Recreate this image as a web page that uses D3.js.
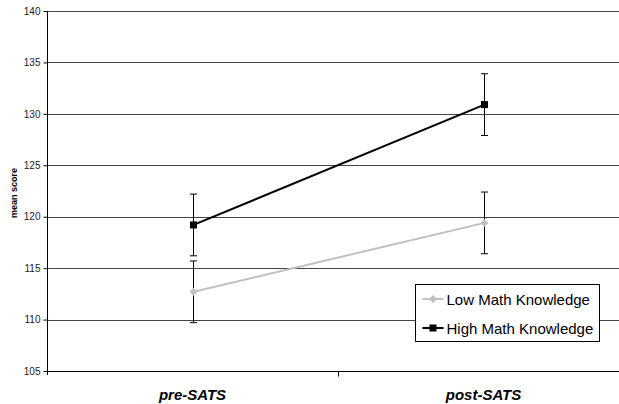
<!DOCTYPE html>
<html lang="en">
<head>
  <meta charset="UTF-8">
  <title>Mean score</title>
  <script src="https://d3js.org/d3.v7.min.js"></script>
  <style>
    body { margin: 0; background: #fff; }
    svg { display: block; font-family: "Liberation Sans", Arial, sans-serif; }
    .grid line { stroke: #444; stroke-width: 1px; shape-rendering: crispEdges; }
  </style>
</head>
<body>
  <div id="chart"></div>

  <script>
    const categories = ["pre-SATS", "post-SATS"];
    const seriesNames = ["Low Math Knowledge", "High Math Knowledge"];
    const lowValues = [112.7, 119.4];
    const highValues = [119.2, 130.9];
    const lowErrors = [3.0, 3.0];
    const highErrors = [3.0, 3.0];
    const yTicks = [105, 110, 115, 120, 125, 130, 135, 140];

    const width = 619, height = 404;
    const plotLeft = 47, plotRight = 629, plotTop = 11, plotBottom = 371;
    const font = "'Liberation Sans', Arial, sans-serif";

    const svg = d3.select("#chart").append("svg")
      .attr("width", width).attr("height", height);

    const x = d3.scaleBand().domain(categories).range([plotLeft, plotRight]);
    const y = d3.scaleLinear().domain([105, 140]).range([plotBottom, plotTop]);

    // gridlines
    svg.append("g").attr("class", "grid")
      .selectAll("line").data(yTicks.filter(t => t > 105)).enter().append("line")
      .attr("x1", plotLeft).attr("x2", plotRight)
      .attr("y1", d => Math.round(y(d)) + 0.5).attr("y2", d => Math.round(y(d)) + 0.5);

    // y axis
    const yAxis = svg.append("g")
      .attr("transform", `translate(${plotLeft + 0.5},0)`)
      .call(d3.axisLeft(y).tickValues(yTicks).tickSize(4).tickPadding(3))
      .attr("font-family", font);
    yAxis.select(".domain").attr("stroke", "#000").attr("d", `M0,${plotTop}V${plotBottom + 4}`);
    yAxis.selectAll(".tick line").attr("stroke", "#000");
    yAxis.selectAll(".tick text").style("font-size", "10px").attr("fill", "#222");

    // x axis
    const xAxis = svg.append("g")
      .attr("transform", `translate(0,${Math.round(plotBottom) + 0.5})`)
      .call(d3.axisBottom(x).tickSize(0).tickPadding(18))
      .attr("font-family", font);
    xAxis.select(".domain").attr("stroke", "#000").attr("d", `M${plotLeft},0H${plotRight}`);
    xAxis.selectAll(".tick text")
      .style("font-size", "15px").style("font-weight", "bold").style("font-style", "italic")
      .attr("fill", "#000");
    // separator tick between categories
    xAxis.append("line")
      .attr("x1", x("post-SATS") + 0.5).attr("x2", x("post-SATS") + 0.5)
      .attr("y1", 0).attr("y2", 5).attr("stroke", "#000");

    // y title
    svg.append("text")
      .attr("transform", `translate(17,193) rotate(-90)`)
      .attr("text-anchor", "middle")
      .style("font-family", font)
      .style("font-size", "9px").style("font-weight", "bold")
      .text("mean score");

    const cx = c => x(c) + x.bandwidth() / 2;

    const series = [
      { name: seriesNames[0], values: lowValues, errors: lowErrors, color: "#c0c0c0", marker: "diamond" },
      { name: seriesNames[1], values: highValues, errors: highErrors, color: "#000", marker: "square" }
    ];

    // error bars
    series.forEach(s => {
      const g = svg.append("g").attr("stroke", "#000").attr("stroke-width", 1);
      categories.forEach((c, i) => {
        const px = Math.round(cx(c)) + 0.5;
        const y1 = y(s.values[i] + s.errors[i]), y2 = y(s.values[i] - s.errors[i]);
        g.append("line").attr("x1", px).attr("x2", px).attr("y1", y1).attr("y2", y2);
        g.append("line").attr("x1", px - 3.5).attr("x2", px + 3.5).attr("y1", y1).attr("y2", y1);
        g.append("line").attr("x1", px - 3.5).attr("x2", px + 3.5).attr("y1", y2).attr("y2", y2);
      });
    });

    const line = d3.line().x((d, i) => Math.round(cx(categories[i])) + 0.5).y(d => y(d));
    const drawMarker = (g, type, color, px, py) => {
      if (type === "square") {
        g.append("rect").attr("x", px - 3.5).attr("y", py - 3.5)
          .attr("width", 7).attr("height", 7).attr("fill", color);
      } else {
        g.append("path").attr("d", `M${px},${py - 4}L${px + 4},${py}L${px},${py + 4}L${px - 4},${py}Z`)
          .attr("fill", color);
      }
    };

    series.forEach(s => {
      svg.append("path").datum(s.values)
        .attr("d", line).attr("fill", "none")
        .attr("stroke", s.color).attr("stroke-width", 2);
      const g = svg.append("g");
      s.values.forEach((v, i) => drawMarker(g, s.marker, s.color, Math.round(cx(categories[i])) + 0.5, y(v)));
    });

    // legend
    const lg = svg.append("g").attr("transform", "translate(415.5,284.5)");
    lg.append("rect").attr("width", 184).attr("height", 57)
      .attr("fill", "#fff").attr("stroke", "#000").attr("stroke-width", 1);
    series.forEach((s, i) => {
      const ly = 14.5 + i * 29;
      lg.append("line").attr("x1", 7).attr("x2", 28).attr("y1", ly).attr("y2", ly)
        .attr("stroke", s.color).attr("stroke-width", 2);
      drawMarker(lg, s.marker, s.color, 17.5, ly);
      lg.append("text").attr("x", 31).attr("y", ly + 5.5)
        .style("font-family", font)
        .style("font-size", "15px").attr("fill", "#000").text(s.name);
    });
  </script>
</body>
</html>
